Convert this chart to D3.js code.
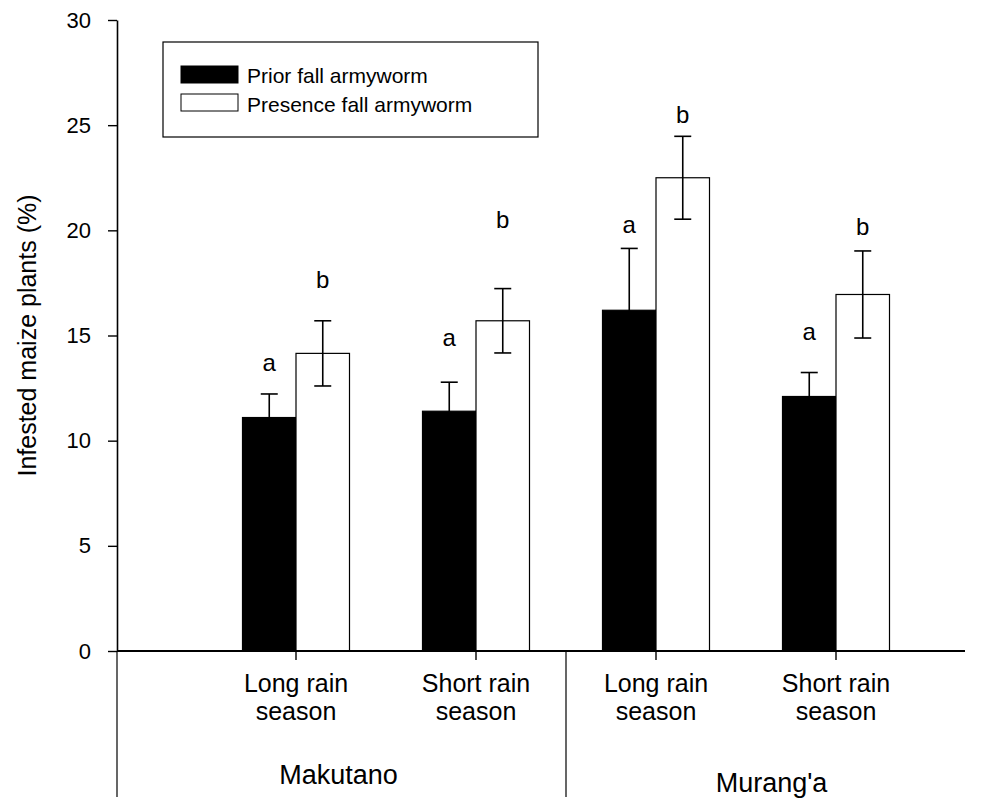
<!DOCTYPE html>
<html>
<head>
<meta charset="utf-8">
<script src="https://cdn.jsdelivr.net/npm/d3@7"></script>
<style>
  html, body { margin: 0; padding: 0; background: #fff; }
  svg { display: block; font-family: "Liberation Sans", Arial, sans-serif; }
</style>
</head>
<body>
<svg id="chart" width="1003" height="798"></svg>
<script>
// ---- data ----
const categories = ["Makutano Long", "Makutano Short", "Murang'a Long", "Murang'a Short"];
const seasonLabels = [["Long rain", "season"], ["Short rain", "season"], ["Long rain", "season"], ["Short rain", "season"]];
const sites = ["Makutano", "Murang'a"];
const seriesNames = ["Prior fall armyworm", "Presence fall armyworm"];
const priorValues = [11.1, 11.4, 16.2, 12.1];
const priorErrors = [1.12, 1.38, 2.94, 1.14];
const presenceValues = [14.15, 15.7, 22.5, 16.95];
const presenceErrors = [1.55, 1.53, 1.97, 2.07];
const priorLetters = ["a", "a", "a", "a"];
const presenceLetters = ["b", "b", "b", "b"];
const priorLetterY = [13.3, 14.5, 19.86, 14.8];
const presenceLetterY = [17.26, 20.1, 25.09, 19.8];
const yTicks = [0, 5, 10, 15, 20, 25, 30];

// ---- layout ----
const svg = d3.select("#chart");
const axisLeft = 117, axisRight = 965, axisBottom = 651, axisTop = 20;
const y = d3.scaleLinear().domain([0, 30]).range([axisBottom, axisTop]);
const x = d3.scalePoint().domain(categories).range([296, 836]);
const barW = 53.5;
const sub = d3.scaleBand().domain([0, 1]).range([-barW, barW]);

const series = [
  { name: seriesNames[0], values: priorValues, errors: priorErrors, letters: priorLetters, ly: priorLetterY, fill: "#000" },
  { name: seriesNames[1], values: presenceValues, errors: presenceErrors, letters: presenceLetters, ly: presenceLetterY, fill: "#fff" }
];

// bars
series.forEach((s, si) => {
  const g = svg.append("g");
  g.selectAll("rect").data(categories).join("rect")
    .attr("x", c => x(c) + sub(si))
    .attr("y", (c, i) => y(s.values[i]))
    .attr("width", sub.bandwidth())
    .attr("height", (c, i) => y(0) - y(s.values[i]))
    .attr("fill", s.fill)
    .attr("stroke", "#000")
    .attr("stroke-width", 1.2);
});

// error bars
series.forEach((s, si) => {
  const g = svg.append("g").attr("stroke", "#000").attr("stroke-width", 1.6);
  categories.forEach((c, i) => {
    const cx = x(c) + sub(si) + sub.bandwidth() / 2;
    const top = y(s.values[i] + s.errors[i]);
    const bot = y(s.values[i] - s.errors[i]);
    g.append("line").attr("x1", cx).attr("x2", cx).attr("y1", top).attr("y2", bot);
    g.append("line").attr("x1", cx - 8.5).attr("x2", cx + 8.5).attr("y1", top).attr("y2", top);
    g.append("line").attr("x1", cx - 8.5).attr("x2", cx + 8.5).attr("y1", bot).attr("y2", bot)
      .attr("stroke", si === 0 ? "none" : "#000");
  });
});

// significance letters
series.forEach((s, si) => {
  svg.append("g").selectAll("text").data(categories).join("text")
    .attr("x", c => x(c) + sub(si) + sub.bandwidth() / 2)
    .attr("y", (c, i) => y(s.ly[i]))
    .attr("text-anchor", "middle")
    .attr("font-size", 24)
    .attr("fill", "#000")
    .text((c, i) => s.letters[i]);
});

// y axis
const yAxis = d3.axisLeft(y).tickValues(yTicks).tickSize(9).tickPadding(17).tickSizeOuter(0);
const ya = svg.append("g").attr("transform", `translate(${axisLeft},0)`).call(yAxis);
ya.attr("font-size", 22).attr("font-family", "Liberation Sans, Arial, sans-serif");
ya.select(".domain").attr("stroke", "#000").attr("stroke-width", 1.6);
ya.selectAll(".tick line").attr("stroke", "#000").attr("stroke-width", 1.4);
ya.selectAll(".tick text").attr("font-size", 22).attr("fill", "#000");

// x axis line
svg.append("line").attr("x1", axisLeft).attr("x2", axisRight).attr("y1", y(0)).attr("y2", y(0))
  .attr("stroke", "#000").attr("stroke-width", 2);
// category ticks
svg.append("g").selectAll("line").data(categories).join("line")
  .attr("x1", c => x(c)).attr("x2", c => x(c))
  .attr("y1", y(0)).attr("y2", y(0) + 9)
  .attr("stroke", "#000").attr("stroke-width", 1.4);

// category labels
const catLab = svg.append("g").selectAll("text").data(categories).join("text")
  .attr("x", c => x(c))
  .attr("y", 692)
  .attr("text-anchor", "middle")
  .attr("font-size", 25)
  .attr("fill", "#000");
catLab.each(function(c, i) {
  const t = d3.select(this);
  seasonLabels[i].forEach((line, li) => {
    t.append("tspan").attr("x", x(c)).attr("dy", li === 0 ? 0 : 28).text(line);
  });
});

// site separators and labels
const sepX = [axisLeft, (x(categories[1]) + x(categories[2])) / 2];
svg.append("g").selectAll("line").data(sepX).join("line")
  .attr("x1", d => d).attr("x2", d => d)
  .attr("y1", y(0)).attr("y2", 797)
  .attr("stroke", "#000").attr("stroke-width", 1.2);
const siteX = [(sepX[0] + sepX[1]) / 2 - 3, (sepX[1] + axisRight) / 2 + 6];
const siteY = [784, 792];
svg.append("g").selectAll("text").data(sites).join("text")
  .attr("x", (d, i) => siteX[i])
  .attr("y", (d, i) => siteY[i])
  .attr("text-anchor", "middle")
  .attr("font-size", 27)
  .attr("fill", "#000")
  .text(d => d);

// y axis title
svg.append("text")
  .attr("transform", `translate(36, ${(axisTop + axisBottom) / 2}) rotate(-90)`)
  .attr("text-anchor", "middle")
  .attr("font-size", 25)
  .attr("fill", "#000")
  .text("Infested maize plants (%)");

// legend
const lg = svg.append("g");
lg.append("rect").attr("x", 163).attr("y", 42).attr("width", 375).attr("height", 95)
  .attr("fill", "#fff").attr("stroke", "#000").attr("stroke-width", 1.2);
series.forEach((s, si) => {
  lg.append("rect").attr("x", 181).attr("y", 66 + si * 28).attr("width", 57).attr("height", 17)
    .attr("fill", s.fill).attr("stroke", "#000").attr("stroke-width", 1);
  lg.append("text").attr("x", 247).attr("y", 83 + si * 29)
    .attr("font-size", 21).attr("fill", "#000").text(s.name);
});
</script>
</body>
</html>
